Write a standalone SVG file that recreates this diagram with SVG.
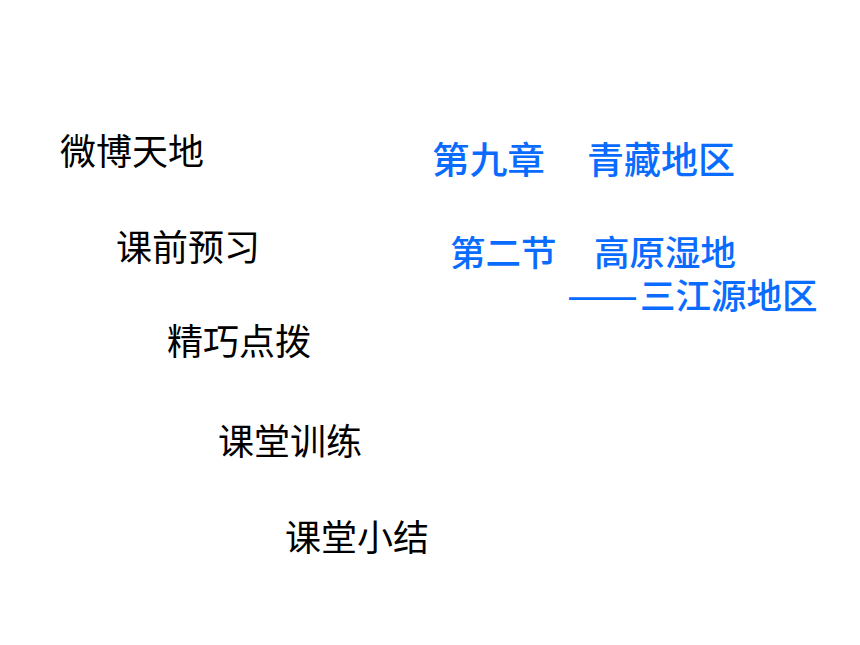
<svg xmlns="http://www.w3.org/2000/svg" width="860" height="645" viewBox="0 0 860 645">
<style>
.k{font-family:"Noto Sans CJK SC","Noto Sans",sans-serif;font-size:36px;fill:#000}
.b{font-family:"Noto Sans CJK SC","Noto Sans",sans-serif;font-size:37px;fill:#0a6cff;font-weight:500}
.s{font-size:35.5px}
</style>
<rect width="860" height="645" fill="#fff"/>
<g id="menu">
<text class="k" x="60" y="165">微博天地</text>
<text class="k" x="116" y="261">课前预习</text>
<text class="k" x="167" y="355">精巧点拨</text>
<text class="k" x="218" y="455">课堂训练</text>
<text class="k" x="285" y="551">课堂小结</text>
</g>
<g id="title">
<text class="b" x="432" y="174" textLength="113" lengthAdjust="spacingAndGlyphs">第九章</text>
<text class="b" x="587" y="174">青藏地区</text>
<text class="b s" x="450" y="266">第二节</text>
<text class="b s" x="594" y="266">高原湿地</text>
<text class="b s" x="567" y="309" textLength="71" lengthAdjust="spacingAndGlyphs">——</text>
<text class="b s" x="640" y="309">三江源地区</text>
</g>
</svg>
